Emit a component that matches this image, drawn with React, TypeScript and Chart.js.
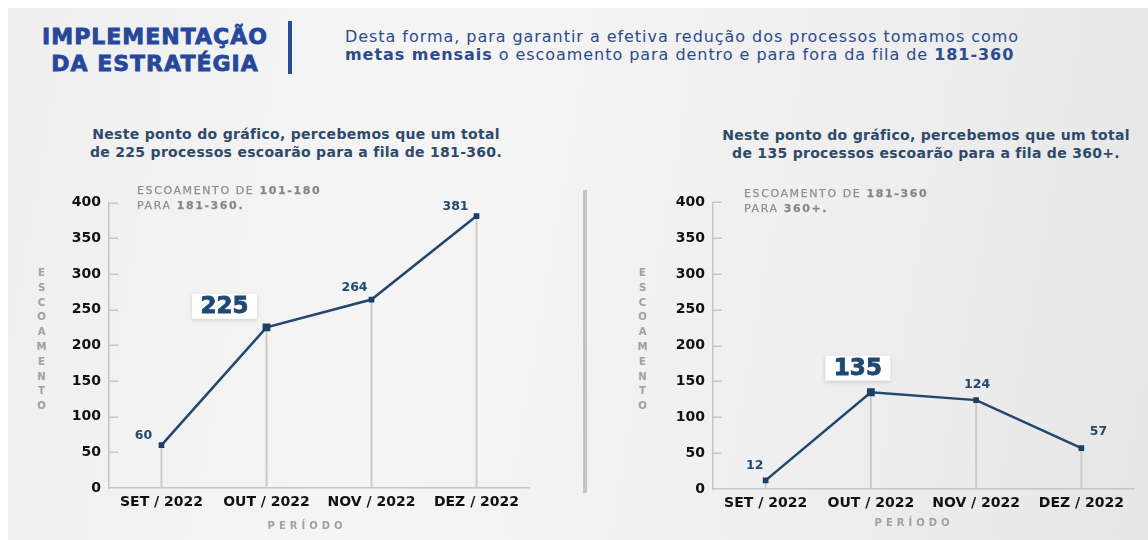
import React, { useEffect, useRef } from "react";
import { Chart, registerables } from "chart.js";

Chart.register(...registerables);

// ---------- data ----------
const periods = ["SET / 2022", "OUT / 2022", "NOV / 2022", "DEZ / 2022"];
const escoamento101a180 = [60, 225, 264, 381];
const escoamento181a360 = [12, 135, 124, 57];
const yMin = 0;
const yMax = 400;
const yStep = 50;

const FONT = '"DejaVu Sans", "Noto Sans", sans-serif';
const NAVY = "#22466c";
const LABEL = "#1f4872";

const valueLabelPlugin = {
  id: "valueLabels",
  afterDatasetsDraw(chart: any, _args: any, opts: any) {
    const ctx = chart.ctx;
    const meta = chart.getDatasetMeta(1);
    const ds = chart.data.datasets[1];
    meta.data.forEach((pt: any, i: number) => {
      const v = String(ds.data[i]);
      const [dx, dy] = opts.offsets[i];
      const x = pt.x + dx;
      const y = pt.y + dy;
      ctx.save();
      ctx.textAlign = "center";
      ctx.textBaseline = "middle";
      if (i === opts.highlight) {
        ctx.font = `bold 23px ${FONT}`;
        const w = ctx.measureText(v).width + 17;
        const h = 25;
        ctx.shadowColor = "rgba(0,0,0,0.16)";
        ctx.shadowBlur = 4;
        ctx.shadowOffsetY = 1;
        ctx.fillStyle = "#ffffff";
        ctx.fillRect(x - w / 2, y - h / 2, w, h);
        ctx.shadowColor = "transparent";
        ctx.fillStyle = LABEL;
        ctx.strokeStyle = LABEL;
        ctx.lineWidth = 0.9;
        ctx.strokeText(v, x, y + 1);
        ctx.fillText(v, x, y + 1);
      } else {
        ctx.font = `bold 12.5px ${FONT}`;
        ctx.fillStyle = LABEL;
        ctx.fillText(v, x, y);
      }
      ctx.restore();
    });
  },
};

const innerTicksPlugin = {
  id: "innerTicks",
  beforeDatasetsDraw(chart: any) {
    const ctx = chart.ctx;
    const ys = chart.scales.y;
    const left = chart.chartArea.left;
    ctx.save();
    ctx.strokeStyle = "#c6c6c6";
    ctx.lineWidth = 1.5;
    ys.ticks.forEach((t: any) => {
      if (t.value === yMin) return;
      const py = Math.round(ys.getPixelForValue(t.value)) + 0.25;
      ctx.beginPath();
      ctx.moveTo(left, py);
      ctx.lineTo(left + 9, py);
      ctx.stroke();
    });
    ctx.restore();
  },
};

type PanelProps = {
  values: number[];
  highlight: number;
  offsets: number[][];
  left: number;
  top: number;
  padTop: number;
  padRight: number;
  xHeight: number;
};

function LinePanel({ values, highlight, offsets, left, top, padTop, padRight, xHeight }: PanelProps) {
  const ref = useRef<HTMLCanvasElement>(null);
  useEffect(() => {
    const chart = new Chart(ref.current as HTMLCanvasElement, {
      type: "bar",
      data: {
        labels: periods,
        datasets: [
          {
            type: "bar",
            data: values,
            backgroundColor: "#c9c9c9",
            barThickness: 1.2,
            order: 2,
          } as any,
          {
            type: "line",
            data: values,
            borderColor: NAVY,
            borderWidth: 2.5,
            tension: 0,
            pointStyle: "rect",
            pointRadius: values.map((_, i) => (i === highlight ? 5.5 : 4)),
            pointBackgroundColor: "#1c3e64",
            pointBorderColor: "#1c3e64",
            pointBorderWidth: 0,
            order: 1,
          } as any,
        ],
      },
      options: {
        animation: false,
        responsive: false,
        maintainAspectRatio: false,
        layout: { padding: { top: padTop, right: padRight, left: 0, bottom: 0 } },
        plugins: {
          legend: { display: false },
          tooltip: { enabled: false },
          valueLabels: { offsets, highlight },
        } as any,
        scales: {
          x: {
            offset: true,
            grid: { display: false, drawTicks: false },
            border: { display: true, color: "#c6c6c6", width: 1.5 },
            ticks: {
              color: "#111111",
              font: { family: FONT, weight: "bold", size: 14 },
              padding: 6,
              maxRotation: 0,
            },
            afterFit: (s: any) => {
              s.height = xHeight;
            },
          },
          y: {
            min: yMin,
            max: yMax,
            grid: { display: false, drawTicks: false },
            border: { display: true, color: "#c6c6c6", width: 1.5 },
            ticks: {
              stepSize: yStep,
              color: "#111111",
              font: { family: FONT, weight: "bold", size: 14 },
              padding: 8,
            },
            afterFit: (s: any) => {
              s.width = 59;
            },
          },
        },
      },
      plugins: [valueLabelPlugin, innerTicksPlugin],
    } as any);
    return () => chart.destroy();
  }, []);
  return (
    <canvas
      ref={ref}
      width={490}
      height={360}
      style={{ position: "absolute", left, top, width: 490, height: 360 }}
    />
  );
}

const abs = (s: React.CSSProperties): React.CSSProperties => ({ position: "absolute", ...s });

function VerticalTitle({ left, top }: { left: number; top: number }) {
  return (
    <div
      style={abs({
        left,
        top,
        writingMode: "vertical-lr",
        textOrientation: "upright",
        fontFamily: FONT,
        fontSize: 10,
        fontWeight: "bold",
        letterSpacing: 3.8,
        color: "#a0a0a0",
        lineHeight: "12px",
      })}
    >
      ESCOAMENTO
    </div>
  );
}

function XTitle({ center, top }: { center: number; top: number }) {
  return (
    <div
      style={abs({
        left: center - 100,
        width: 200,
        top,
        textAlign: "center",
        fontFamily: FONT,
        fontSize: 10,
        fontWeight: "bold",
        letterSpacing: 4,
        color: "#a0a0a0",
        lineHeight: "12px",
        paddingLeft: 4,
      })}
    >
      PERÍODO
    </div>
  );
}

function Note({ left, top, from, to }: { left: number; top: number; from: string; to: string }) {
  return (
    <div
      style={abs({
        left,
        top,
        fontFamily: FONT,
        fontSize: 11,
        letterSpacing: 1.6,
        color: "#8e8e8e",
        lineHeight: "15px",
        whiteSpace: "nowrap",
        WebkitTextStroke: "0.25px #8e8e8e",
      })}
    >
      ESCOAMENTO DE <b style={{ color: "#858585" }}>{from}</b>
      <br />
      PARA <b style={{ color: "#858585" }}>{to}</b>
    </div>
  );
}

function Subtitle({ center, top, children }: { center: number; top: number; children: React.ReactNode }) {
  return (
    <div
      style={abs({
        left: center - 240,
        width: 480,
        top,
        textAlign: "center",
        fontFamily: FONT,
        fontSize: 14,
        letterSpacing: 0.3,
        fontWeight: "bold",
        color: "#2e4a6a",
        lineHeight: "18px",
      })}
    >
      {children}
    </div>
  );
}

export default function App() {
  return (
    <div style={abs({ left: 0, top: 0, width: 1148, height: 540, background: "#ffffff", overflow: "hidden" })}>
      <div
        style={abs({
          left: 8,
          top: 8,
          width: 1140,
          height: 532,
          background: "linear-gradient(100deg, #efefef 0%, #f5f5f5 35%, #efefef 70%, #e6e6e6 100%)",
        })}
      />
      {/* header */}
      <div
        style={abs({
          left: 25,
          width: 260,
          top: 23,
          textAlign: "center",
          fontFamily: FONT,
          fontSize: 22,
          fontWeight: "bold",
          letterSpacing: 1,
          color: "#26479b",
          lineHeight: "27px",
          WebkitTextStroke: "0.8px #26479b",
        })}
      >
        IMPLEMENTAÇÃO
        <br />
        DA ESTRATÉGIA
      </div>
      <div style={abs({ left: 288, top: 21, width: 4, height: 53, background: "#2a4a9c" })} />
      <div
        style={abs({
          left: 345,
          top: 28,
          fontFamily: FONT,
          fontSize: 16,
          letterSpacing: 0.95,
          color: "#2c4b8e",
          lineHeight: "18px",
          whiteSpace: "nowrap",
        })}
      >
        Desta forma, para garantir a efetiva redução dos processos tomamos como
        <br />
        <b>metas mensais</b> o escoamento para dentro e para fora da fila de <b>181-360</b>
      </div>

      {/* subtitles */}
      <Subtitle center={296} top={125}>
        Neste ponto do gráfico, percebemos que um total
        <br />
        de 225 processos escoarão para a fila de 181-360.
      </Subtitle>
      <Subtitle center={926} top={126}>
        Neste ponto do gráfico, percebemos que um total
        <br />
        de 135 processos escoarão para a fila de 360+.
      </Subtitle>

      {/* divider */}
      <div style={abs({ left: 583, top: 190, width: 4, height: 303, background: "#c4c4c4" })} />

      <LinePanel
        values={escoamento101a180}
        highlight={1}
        offsets={[[-18, -9], [-42, -21], [-17, -12], [-21, -9]]}
        left={50}
        top={180}
        padTop={22.5}
        padRight={11}
        xHeight={52}
      />
      <LinePanel
        values={escoamento181a360}
        highlight={1}
        offsets={[[-11, -15], [-13, -24], [1, -15], [17, -16]]}
        left={654}
        top={180}
        padTop={22.3}
        padRight={10}
        xHeight={51}
      />

      <Note left={137} top={183} from="101-180" to="181-360." />
      <Note left={744} top={186} from="181-360" to="360+." />

      <VerticalTitle left={35} top={267} />
      <VerticalTitle left={636} top={267} />

      <XTitle center={303} top={520} />
      <XTitle center={910} top={517} />
    </div>
  );
}
